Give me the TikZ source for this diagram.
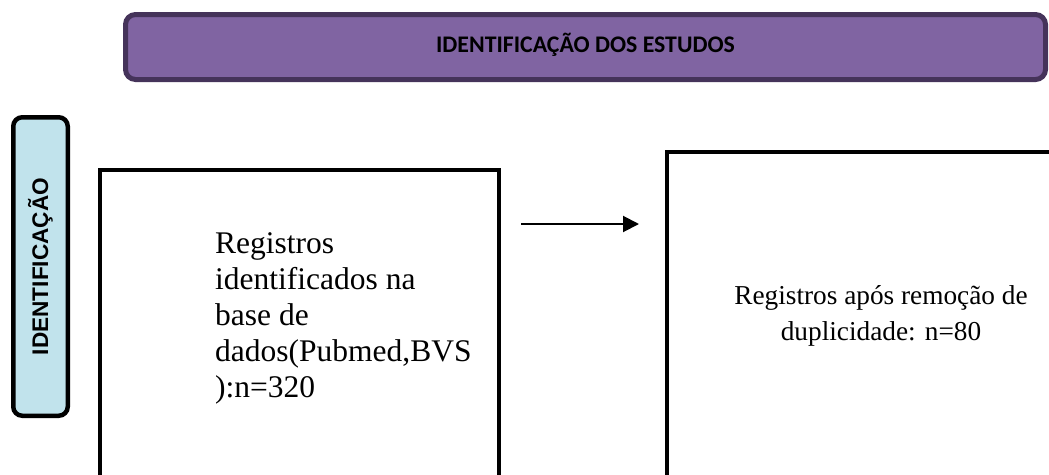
\documentclass[tikz,border=0pt]{standalone}
\usepackage{fontspec}
\setmainfont{Liberation Serif}
\newfontfamily\carlitofont{Carlito}
\newfontfamily\arialfont{Liberation Sans}
\usetikzlibrary{arrows.meta}
\definecolor{purplefill}{HTML}{8064A2}
\definecolor{purpleline}{HTML}{45335A}
\definecolor{bluefill}{HTML}{C1E3EC}
\tikzset{
  banner/.style={draw=purpleline, fill=purplefill, line width=5pt, rounded corners=10pt,
    inner sep=0pt, font=\carlitofont\bfseries\fontsize{23.8}{28}\selectfont,
    text height=15pt, text depth=5pt},
  sidebox/.style={draw=black, fill=bluefill, line width=4.5pt, rounded corners=9pt,
    inner sep=0pt, font=\arialfont\bfseries\fontsize{22.6}{26}\selectfont},
  flowbox/.style={draw=black, line width=4pt, inner sep=0pt},
  bigtext/.style={inner sep=0pt, align=left, font=\fontsize{31.5}{36}\selectfont},
  medtext/.style={inner sep=0pt, align=center, font=\fontsize{27.3}{36}\selectfont},
  flowarrow/.style={line width=2pt, -{Triangle[length=16pt,width=16pt]}}
}
\begin{document}
\begin{tikzpicture}[x=1pt,y=-1pt]
\useasboundingbox (0,0) rectangle (1049,474);
\clip (0,0) rectangle (1049,474);
\node[banner, minimum width=920pt, minimum height=65pt] (head) at (585.5,47) {IDENTIFICAÇÃO DOS ESTUDOS};
\node[sidebox, minimum width=298.5pt, minimum height=54.5pt, rotate=90] (side) at (40.5,266.5) {IDENTIFICAÇÃO};
\node[flowbox, minimum width=399pt, minimum height=360pt, anchor=north west] (box1) at (98,168) {};
\node[flowbox, minimum width=500pt, minimum height=360pt, anchor=north west] (box2) at (665,150) {};
\node[bigtext, anchor=north west] (t1) at (215,232) {Registros\\identificados na\\base de\\dados(Pubmed,BVS\\):n=320};
\node[medtext, anchor=north] (t2) at (881,285) {Registros após remoção de\\duplicidade: n=80};
\coordinate (a1) at (521,224);
\coordinate (a2) at (639,224);
\draw[flowarrow] (a1) -- (a2);
\end{tikzpicture}
\end{document}
